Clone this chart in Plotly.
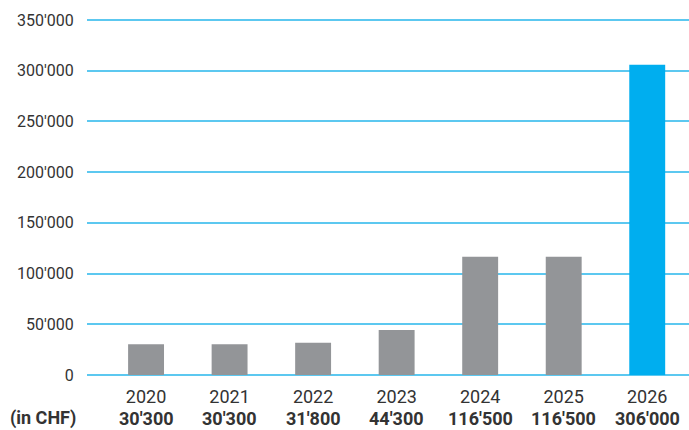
import plotly.graph_objects as go

# Annual amounts (CHF)
years = ["2020", "2021", "2022", "2023", "2024", "2025", "2026"]
amounts = [30300, 30300, 31800, 44300, 116500, 116500, 306000]
amount_labels = ["30'300", "30'300", "31'800", "44'300", "116'500", "116'500", "306'000"]
bar_colors = ["#939598"] * 6 + ["#00aeef"]

y_tickvals = [0, 50000, 100000, 150000, 200000, 250000, 300000, 350000]
y_ticktext = ["0", "50'000", "100'000", "150'000", "200'000", "250'000", "300'000", "350'000"]
unit_label = "(in CHF)"

GRID = "#5cc8f0"
TEXT = "#333333"
FONT = "Roboto, Arial, sans-serif"

fig = go.Figure(
    go.Bar(
        x=list(range(len(years))),
        y=amounts,
        marker=dict(color=bar_colors, line=dict(width=0)),
        width=0.43,
        hoverinfo="skip",
    )
)

# Value row under the year labels
for i, lab in enumerate(amount_labels):
    fig.add_annotation(
        x=i, y=-0.122, xref="x", yref="paper", text=f"<b>{lab}</b>",
        showarrow=False, xanchor="center", yanchor="middle",
        font=dict(family=FONT, size=18, color=TEXT),
    )
fig.add_annotation(
    x=-0.131, y=-0.122, xref="paper", yref="paper", text=f"<b>{unit_label}</b>",
    showarrow=False, xanchor="left", yanchor="middle",
    font=dict(family=FONT, size=18, color=TEXT),
)

fig.update_layout(
    width=689, height=430,
    margin=dict(l=87, r=0, t=19, b=55),
    paper_bgcolor="white", plot_bgcolor="white",
    showlegend=False,
    font=dict(family=FONT, size=16, color=TEXT),
    xaxis=dict(
        range=[-0.707, 6.5],
        tickvals=list(range(len(years))), ticktext=years,
        showgrid=False, zeroline=False, showline=False,
        ticks="outside", ticklen=5, tickcolor="rgba(0,0,0,0)",
        tickfont=dict(family=FONT, size=18, color=TEXT),
        fixedrange=True,
    ),
    yaxis=dict(
        range=[0, 351000],
        tickvals=y_tickvals, ticktext=y_ticktext,
        showgrid=True, gridcolor=GRID, gridwidth=1.5,
        zeroline=True, zerolinecolor=GRID, zerolinewidth=2,
        showline=False,
        ticks="outside", ticklen=9, tickcolor="rgba(0,0,0,0)",
        tickfont=dict(family=FONT, size=16, color=TEXT),
        fixedrange=True,
    ),
)

fig.write_html("out.html")
